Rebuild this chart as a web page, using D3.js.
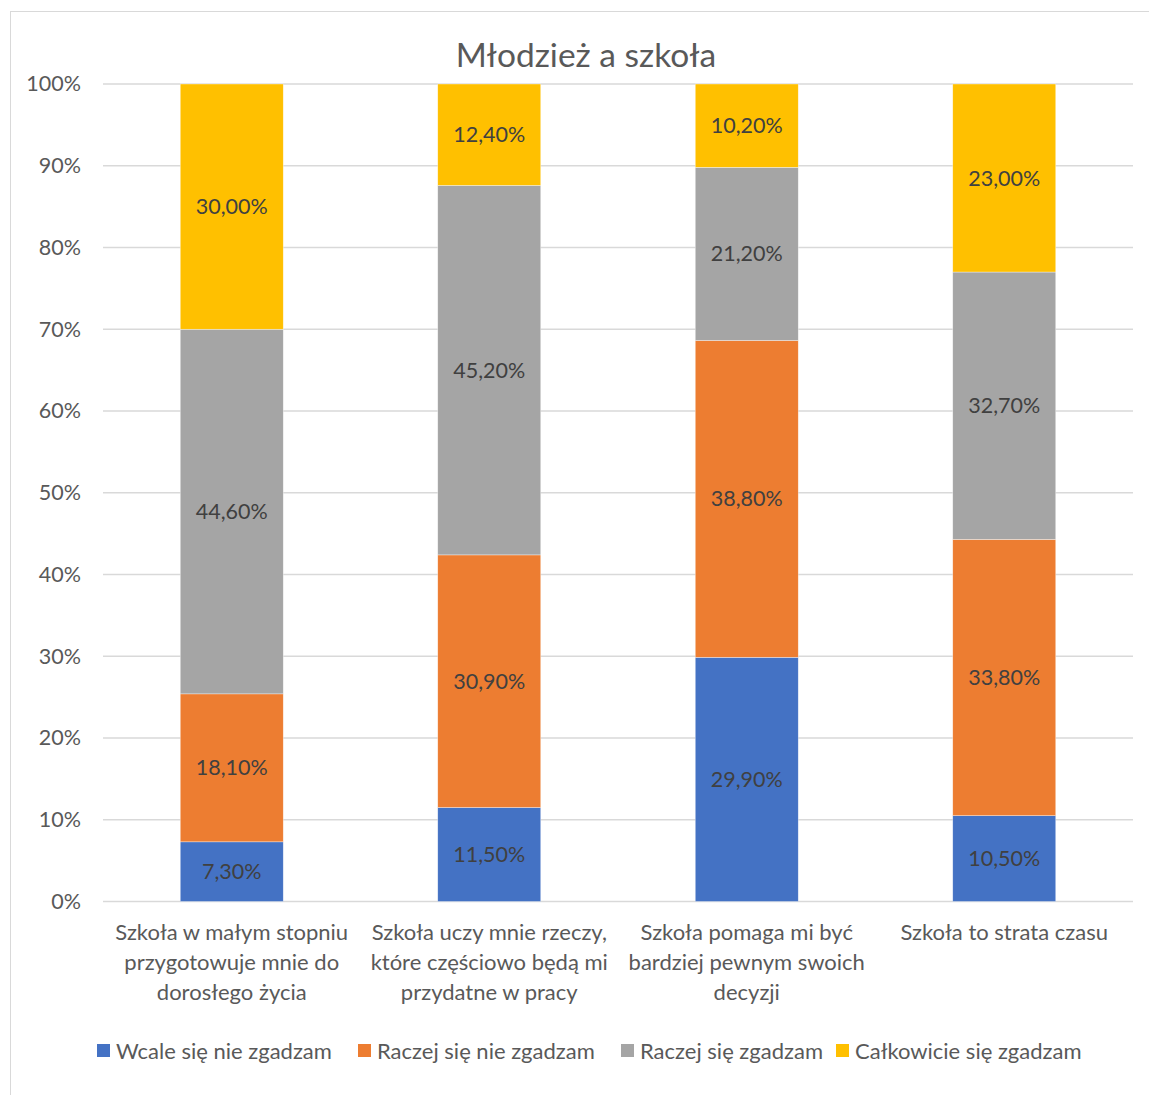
<!DOCTYPE html>
<html><head><meta charset="utf-8">
<script src="https://cdn.jsdelivr.net/npm/d3@7"></script>
<style>body{margin:0;background:#fff;} svg{display:block;font-family:Lato, "Open Sans", sans-serif;}</style>
</head><body>
<script>
const title = "Młodzież a szkoła";
const categories = [
  ["Szkoła w małym stopniu","przygotowuje mnie do","dorosłego życia"],
  ["Szkoła uczy mnie rzeczy,","które częściowo będą mi","przydatne w pracy"],
  ["Szkoła pomaga mi być","bardziej pewnym swoich","decyzji"],
  ["Szkoła to strata czasu"]
];
const seriesNames = ["Wcale się nie zgadzam","Raczej się nie zgadzam","Raczej się zgadzam","Całkowicie się zgadzam"];
const seriesColors = ["#4472C4","#ED7D31","#A5A5A5","#FFC000"];
const wcale = [7.3, 11.5, 29.9, 10.5];
const raczejNie = [18.1, 30.9, 38.8, 33.8];
const raczejTak = [44.6, 45.2, 21.2, 32.7];
const calkowicie = [30.0, 12.4, 10.2, 23.0];
const yTicks = [0,0.1,0.2,0.3,0.4,0.5,0.6,0.7,0.8,0.9,1.0];

(function(){
const W = 1149, H = 1095;
const svg = d3.select("body").append("svg").attr("width", W).attr("height", H);
svg.append("rect").attr("x",10.5).attr("y",11.5).attr("width",W).attr("height",H).attr("fill","#fff").attr("stroke","#D9D9D9").attr("stroke-width",1);

const pl = 103, pr = 1133, pt = 84, pb = 901.5;
const x = d3.scaleBand().domain(d3.range(categories.length)).range([pl,pr]).paddingInner(0.6).paddingOuter(0.3);
const y = d3.scaleLinear().domain([0,1]).range([pb, pt]);

svg.append("g").selectAll("line").data(yTicks).join("line")
  .attr("x1",pl).attr("x2",pr).attr("y1",d=>y(d)).attr("y2",d=>y(d))
  .attr("stroke","#D9D9D9").attr("stroke-width",1.3);

const yAxis = d3.axisLeft(y).tickValues(yTicks).tickFormat(d3.format(".0%")).tickSize(0).tickPadding(22);
const ya = svg.append("g").attr("transform",`translate(${pl},0)`).call(yAxis);
ya.select(".domain").remove();
ya.selectAll("text").attr("fill","#595959").style("font-size","21.5px").style("font-family","Lato, sans-serif");

const seriesData = [wcale, raczejNie, raczejTak, calkowicie];
const rows = categories.map((c,i)=>{
  const o = {i};
  seriesData.forEach((s,k)=>o["s"+k]=s[i]);
  return o;
});
const stack = d3.stack().keys(seriesNames.map((_,k)=>"s"+k)).offset(d3.stackOffsetExpand);
const stacked = stack(rows);
const fmt = v => d3.format(".2f")(v).replace(".",",") + "%";

stacked.forEach((layer,k)=>{
  const g = svg.append("g");
  g.selectAll("rect").data(layer).join("rect")
    .attr("x",d=>x(d.data.i)).attr("width",x.bandwidth())
    .attr("y",d=>y(d[1])).attr("height",d=>y(d[0])-y(d[1]))
    .attr("fill",seriesColors[k]).attr("stroke","#fff").attr("stroke-width",0.6).attr("stroke-opacity",0.6);
  g.selectAll("text").data(layer).join("text")
    .attr("x",d=>x(d.data.i)+x.bandwidth()/2)
    .attr("y",d=>(y(d[0])+y(d[1]))/2)
    .attr("dy","0.35em").attr("text-anchor","middle")
    .attr("fill","#404040").style("font-size","21.5px")
    .text(d=>fmt(seriesData[k][d.data.i]));
});

const xa = svg.append("g");
categories.forEach((lines,i)=>{
  const t = xa.append("text").attr("text-anchor","middle").attr("fill","#595959").style("font-size","22px");
  lines.forEach((ln,j)=>{
    t.append("tspan").attr("x",x(i)+x.bandwidth()/2).attr("y",940+30*j).text(ln);
  });
});

svg.append("text").attr("x",586).attr("y",67).attr("text-anchor","middle").attr("fill","#595959")
  .style("font-size","33.5px").text(title);

const legendX = [97, 358, 621, 836];
const lg = svg.append("g");
seriesNames.forEach((n,k)=>{
  lg.append("rect").attr("x",legendX[k]).attr("y",1044).attr("width",13).attr("height",13).attr("fill",seriesColors[k]);
  lg.append("text").attr("x",legendX[k]+19).attr("y",1051).attr("dy","0.35em").attr("fill","#595959")
    .style("font-size","22px").text(n);
});
})();
</script>
</body></html>
